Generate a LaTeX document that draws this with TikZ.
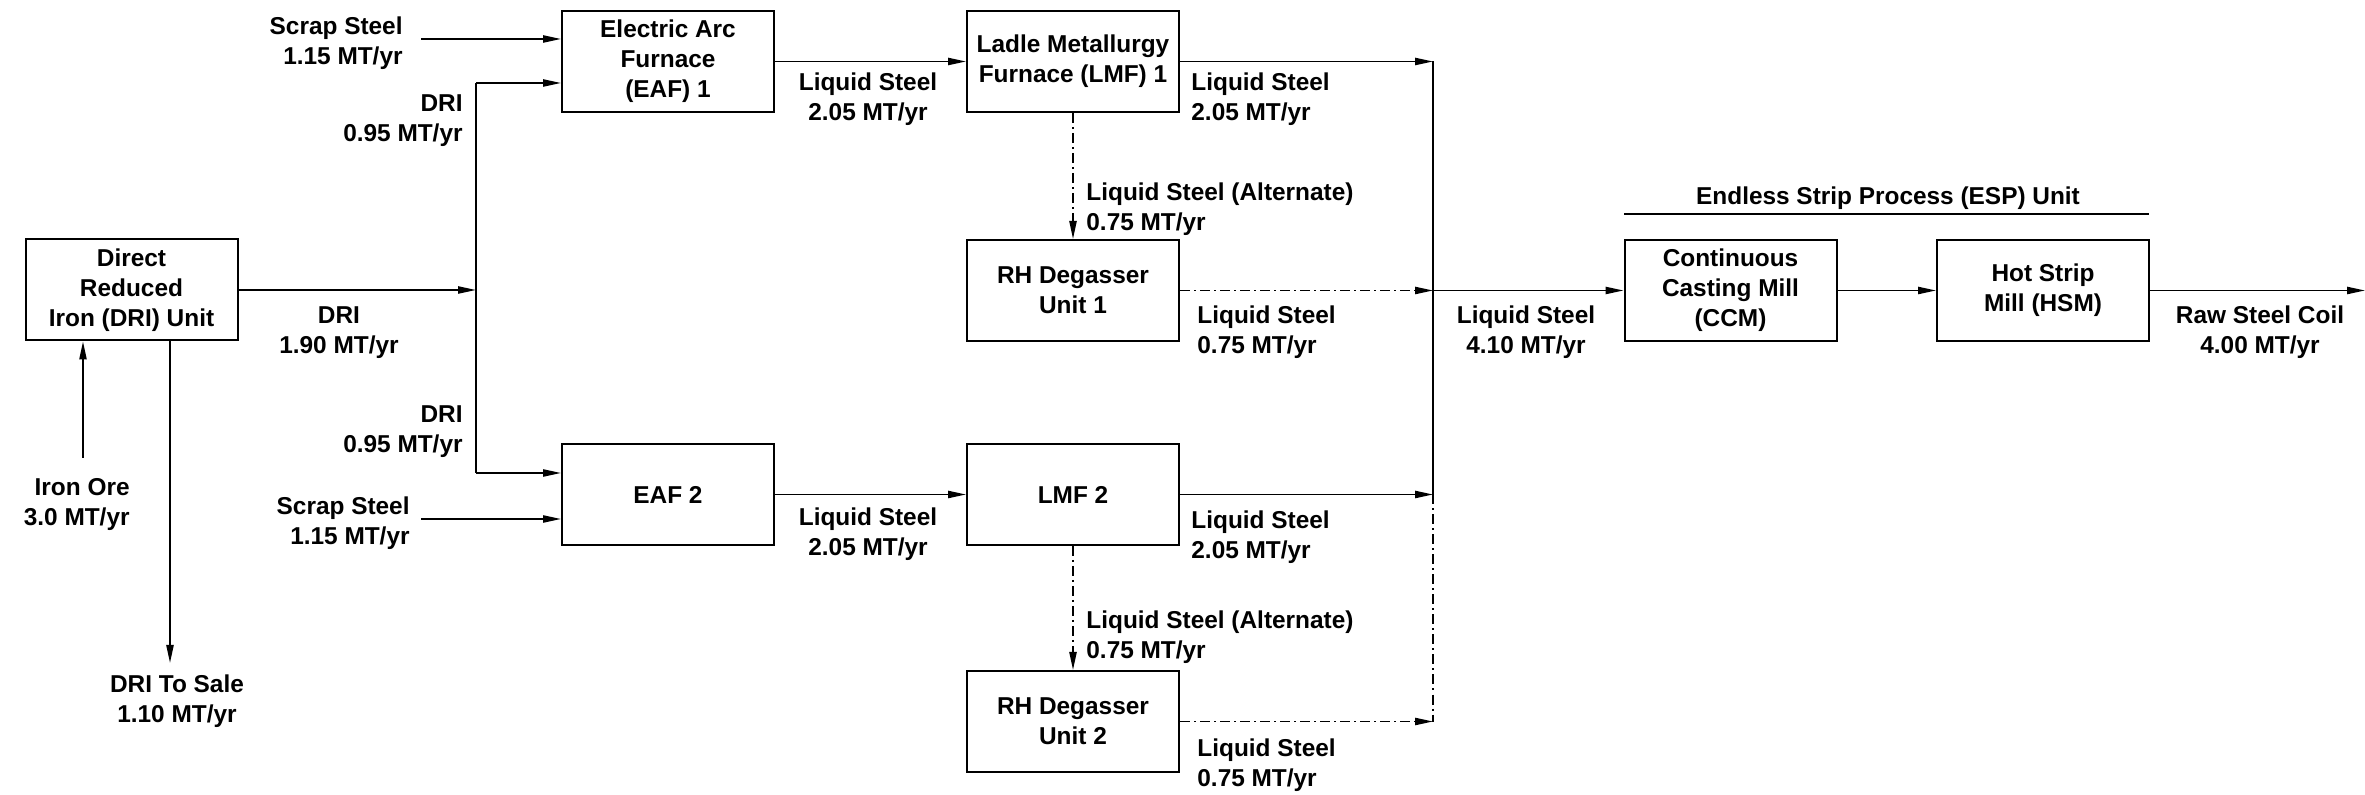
\documentclass[tikz,border=0pt]{standalone}
\usepackage{fontspec}
\setmainfont{Liberation Sans}
\usetikzlibrary{arrows.meta}
\begin{document}
\begin{tikzpicture}[x=0.5pt,y=-0.5pt,
  every node/.style={font=\fontsize{12.2}{15}\selectfont\bfseries},
  box/.style={draw, line width=1pt, minimum width=106pt, minimum height=50.5pt, inner sep=0pt, align=center},
  lbl/.style={align=center, inner sep=0pt},
  lblr/.style={align=right, inner sep=0pt, anchor=east},
  lbll/.style={align=left, inner sep=0pt, anchor=west},
  flow/.style={line width=0.85pt, -{Triangle[length=9pt,width=3.6pt]}},
  altflow/.style={flow, dash pattern=on 5pt off 2pt on 1pt off 2pt},
  altline/.style={line width=0.85pt, dash pattern=on 5pt off 2pt on 1pt off 2pt},
  plain/.style={line width=0.85pt},
  ]
\useasboundingbox (0,0) rectangle (2365,795);

% boxes
\node[box] (dri) at (131.5,290) {Direct\\Reduced\\Iron (DRI) Unit};
\node[box] (eaf1) at (668,61.5) {Electric Arc\\Furnace\\(EAF) 1};
\node[box] (eaf2) at (668,494.5) {EAF 2};
\node[box] (lmf1) at (1073,61.5) {Ladle Metallurgy\\Furnace (LMF) 1};
\node[box] (lmf2) at (1073,494.5) {LMF 2};
\node[box] (rh1) at (1073,290.5) {RH Degasser\\Unit 1};
\node[box] (rh2) at (1073,721.5) {RH Degasser\\Unit 2};
\node[box] (ccm) at (1730.5,290.5) {Continuous\\Casting Mill\\(CCM)};
\node[box] (hsm) at (2043,290.5) {Hot Strip\\Mill (HSM)};

% coordinates
\coordinate (s1) at (421,39);
\coordinate (s2) at (421,519);
\coordinate (split) at (476,290);
\coordinate (splitT) at (476,83);
\coordinate (splitB) at (476,473);
\coordinate (colx) at (1433,0);
\coordinate (ore) at (83,458);
\coordinate (sale) at (170,663);
\coordinate (endc) at (2365,290.5);
\coordinate (espL) at (1624,214);
\coordinate (espR) at (2149,214);

% DRI and feeds
\draw[flow] (s1) -- (s1 -| eaf1.west);
\draw[flow] (s2) -- (s2 -| eaf2.west);
\draw[flow] (dri.east |- split) -- (split);
\draw[plain] (splitT) -- (splitB);
\draw[flow] (splitT) -- (splitT -| eaf1.west);
\draw[flow] (splitB) -- (splitB -| eaf2.west);
\draw[flow] (ore) -- (ore |- dri.south);
\draw[flow] (sale |- dri.south) -- (sale);

% EAF to LMF
\draw[flow] (eaf1.east) -- (lmf1.west);
\draw[flow] (eaf2.east) -- (lmf2.west);

% LMF to collector
\draw[flow] (lmf1.east) -- (lmf1.east -| colx);
\draw[flow] (lmf2.east) -- (lmf2.east -| colx);
\draw[altflow] (lmf1.south) -- (rh1.north);
\draw[altflow] (lmf2.south) -- (rh2.north);
\draw[altflow] (rh1.east) -- (rh1.east -| colx);
\draw[altflow] (rh2.east) -- (rh2.east -| colx);
\draw[plain] (lmf1.east -| colx) -- (lmf2.east -| colx);
\draw[altline] (lmf2.east -| colx) -- (rh2.east -| colx);

% ESP
\draw[flow] (rh1.east -| colx) -- (ccm.west);
\draw[flow] (ccm.east) -- (hsm.west);
\draw[flow] (hsm.east) -- (endc);
\draw[line width=1pt] (espL) -- (espR);
\node[lbl] (esp) at (1888,198) {Endless Strip Process (ESP) Unit};

% labels
\node[lblr] (l_s1) at (403,43) {Scrap Steel\\1.15 MT/yr};
\node[lblr] (l_s2) at (410,523) {Scrap Steel\\1.15 MT/yr};
\node[lblr] (l_d1) at (463,121) {DRI\\0.95 MT/yr};
\node[lblr] (l_d2) at (463,432) {DRI\\0.95 MT/yr};
\node[lbl] (l_d0) at (339,333) {DRI\\1.90 MT/yr};
\node[lblr] (l_ore) at (130,505) {Iron Ore\\3.0 MT/yr};
\node[lbl] (l_sale) at (177,701) {DRI To Sale\\1.10 MT/yr};
\node[lbl] (l_e1) at (868,99) {Liquid Steel\\2.05 MT/yr};
\node[lbl] (l_e2) at (868,534) {Liquid Steel\\2.05 MT/yr};
\node[lbll] (l_m1) at (1191,99) {Liquid Steel\\2.05 MT/yr};
\node[lbll] (l_m2) at (1191,537) {Liquid Steel\\2.05 MT/yr};
\node[lbll] (l_a1) at (1086,209) {Liquid Steel (Alternate)\\0.75 MT/yr};
\node[lbll] (l_a2) at (1086,637) {Liquid Steel (Alternate)\\0.75 MT/yr};
\node[lbll] (l_r1) at (1197,332) {Liquid Steel\\0.75 MT/yr};
\node[lbll] (l_r2) at (1197,765) {Liquid Steel\\0.75 MT/yr};
\node[lbl] (l_c) at (1526,332) {Liquid Steel\\4.10 MT/yr};
\node[lbl] (l_raw) at (2260,332) {Raw Steel Coil\\4.00 MT/yr};
\end{tikzpicture}
\end{document}
